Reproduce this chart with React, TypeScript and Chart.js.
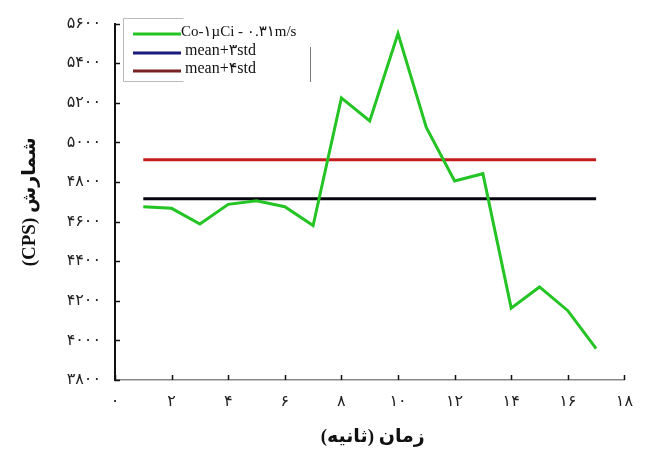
import React, { useEffect, useRef } from "react";
import { Chart, registerables } from "chart.js";
Chart.register(...registerables);

const timeSec = [1, 2, 3, 4, 5, 6, 7, 8, 9, 10, 11, 12, 13, 14, 15, 16, 17];
const counts = [4675, 4667, 4588, 4687, 4705, 4675, 4580, 5225, 5108, 5550, 5075, 4805, 4842, 4163, 4270, 4150, 3958];
const mean3std = 4715;
const mean4std = 4912;
const xTicks = [0, 2, 4, 6, 8, 10, 12, 14, 16, 18];
const yTicks = [3800, 4000, 4200, 4400, 4600, 4800, 5000, 5200, 5400, 5600];
const seriesLabels = ["Co-۱µCi - ۰.۳۱m/s", "mean+۳std", "mean+۴std"];
const xTitle = "زمان (ثانیه)";
const yTitle = "(CPS) شمارش";

const toFa = (n: number) => String(n).replace(/\d/g, (d) => "۰۱۲۳۴۵۶۷۸۹"[+d]);
const FONT = "'Liberation Serif', 'DejaVu Sans', serif";

const tickMarks = {
  id: "tickMarks",
  afterDraw(chart: any) {
    const { ctx, chartArea: ca, scales } = chart;
    ctx.save();
    ctx.strokeStyle = "#111";
    ctx.lineWidth = 1.5;
    yTicks.forEach((v) => {
      const py = Math.round(scales.y.getPixelForValue(v)) + 0.5;
      ctx.beginPath();
      ctx.moveTo(ca.left, py);
      ctx.lineTo(ca.left + 5, py);
      ctx.stroke();
    });
    xTicks.forEach((v) => {
      const px = Math.round(scales.x.getPixelForValue(v)) + 0.5;
      ctx.beginPath();
      ctx.moveTo(px, ca.bottom);
      ctx.lineTo(px, ca.bottom - 5);
      ctx.stroke();
    });
    ctx.restore();
  },
};

// Right-to-left title: words laid out from right to left
const xTitlePlugin = {
  id: "xTitlePlugin",
  afterDraw(chart: any) {
    const { ctx, chartArea: ca } = chart;
    ctx.save();
    ctx.font = `bold 19px ${FONT}`;
    ctx.fillStyle = "#111";
    ctx.textBaseline = "middle";
    ctx.textAlign = "left";
    const words = xTitle.split(" ");
    const visual = words.slice().reverse();
    const gap = ctx.measureText(" ").width;
    const widths = visual.map((w) => ctx.measureText(w).width);
    const total = widths.reduce((a, b) => a + b, 0) + gap * (visual.length - 1);
    const cx = (ca.left + ca.right) / 2 + 3;
    const y = 437;
    let x = cx - total / 2;
    visual.forEach((w, i) => {
      ctx.fillText(w, x, y);
      x += widths[i] + gap;
    });
    ctx.restore();
  },
};

const customLegend = {
  id: "customLegend",
  afterDraw(chart: any) {
    const { ctx } = chart;
    ctx.save();
    ctx.strokeStyle = "#bbb";
    ctx.lineWidth = 1;
    ctx.beginPath();
    ctx.moveTo(183.5, 18.5);
    ctx.lineTo(123.5, 18.5);
    ctx.lineTo(123.5, 81.5);
    ctx.lineTo(183.5, 81.5);
    ctx.stroke();
    ctx.strokeStyle = "#777";
    ctx.beginPath();
    ctx.moveTo(310.5, 47);
    ctx.lineTo(310.5, 82);
    ctx.stroke();
    const rows = [34, 53, 71];
    const textX = [181, 185, 185];
    const sizes = [15, 16, 16];
    chart.data.datasets.forEach((ds: any, i: number) => {
      const y = rows[i];
      ctx.strokeStyle = ds.legendColor || ds.borderColor;
      ctx.lineWidth = 3;
      ctx.beginPath();
      ctx.moveTo(133, y);
      ctx.lineTo(181, y);
      ctx.stroke();
      ctx.fillStyle = "#111";
      ctx.font = `${sizes[i]}px ${FONT}`;
      ctx.textBaseline = "middle";
      ctx.textAlign = "left";
      ctx.fillText(ds.label, textX[i], y - 2);
    });
    ctx.restore();
  },
};

export default function App() {
  const ref = useRef<HTMLCanvasElement>(null);
  useEffect(() => {
    if (!ref.current) return;
    const first = timeSec[0];
    const last = timeSec[timeSec.length - 1];
    const chart = new Chart(ref.current, {
      type: "line",
      data: {
        datasets: [
          {
            label: seriesLabels[0],
            data: timeSec.map((t, i) => ({ x: t, y: counts[i] })),
            borderColor: "rgb(36,196,36)",
            legendColor: "rgb(36,196,36)",
            borderWidth: 3,
            pointRadius: 0,
            tension: 0,
          } as any,
          {
            label: seriesLabels[1],
            data: [
              { x: first, y: mean3std },
              { x: last, y: mean3std },
            ],
            borderColor: "#050510",
            legendColor: "#1a1a7a",
            borderWidth: 3,
            pointRadius: 0,
          } as any,
          {
            label: seriesLabels[2],
            data: [
              { x: first, y: mean4std },
              { x: last, y: mean4std },
            ],
            borderColor: "rgb(196,28,28)",
            legendColor: "rgb(120,36,36)",
            borderWidth: 3,
            pointRadius: 0,
          } as any,
        ],
      },
      options: {
        responsive: false,
        animation: false,
        layout: { padding: { top: 20, right: 20, left: 0, bottom: 0 } },
        plugins: { legend: { display: false }, tooltip: { enabled: false } },
        scales: {
          x: {
            type: "linear",
            min: 0,
            max: 18,
            afterFit: (s: any) => {
              s.height = 72;
            },
            afterBuildTicks: (s: any) => {
              s.ticks = xTicks.map((v) => ({ value: v }));
            },
            grid: { display: false, drawTicks: false },
            border: { display: true, color: "#888", width: 1.5 },
            ticks: {
              padding: 12,
              color: "#222",
              font: { size: 16, family: FONT },
              callback: (v: any) => toFa(Number(v)),
            },
            title: { display: false },
          },
          y: {
            type: "linear",
            min: 3800,
            max: 5600,
            afterFit: (s: any) => {
              s.width = 115;
            },
            afterBuildTicks: (s: any) => {
              s.ticks = yTicks.map((v) => ({ value: v }));
            },
            grid: { display: false, drawTicks: false },
            border: { display: true, color: "#111", width: 2 },
            ticks: {
              padding: 14,
              color: "#222",
              font: { size: 16, family: FONT },
              callback: (v: any) => toFa(Number(v)),
            },
            title: {
              display: true,
              text: yTitle,
              color: "#111",
              font: { size: 19, weight: "bold", family: FONT },
              padding: { top: 19, bottom: 0 },
            },
          },
        },
      },
      plugins: [tickMarks, customLegend, xTitlePlugin],
    });
    return () => chart.destroy();
  }, []);
  return (
    <div style={{ position: "absolute", left: 0, top: 0, width: 645, height: 452, background: "#fff" }}>
      <canvas ref={ref} width={645} height={452} style={{ display: "block" }} />
    </div>
  );
}
